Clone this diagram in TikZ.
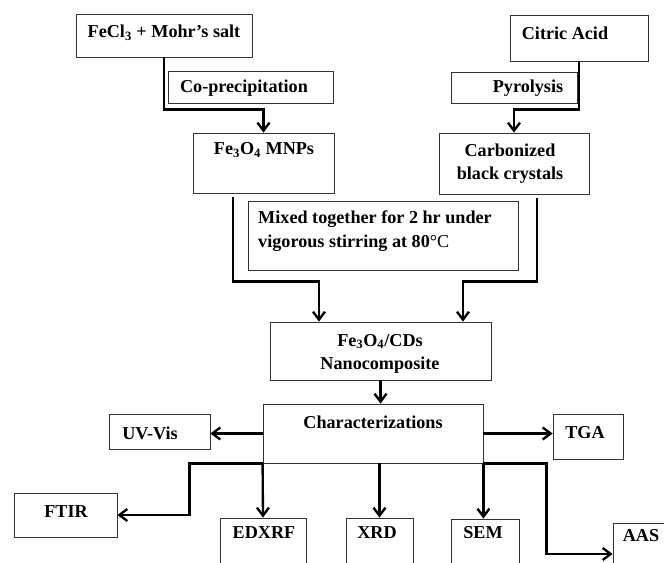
\documentclass[tikz,border=0pt]{standalone}
\usepackage{fontspec}
\setmainfont{Liberation Serif}
\usetikzlibrary{positioning,arrows.meta,calc}

\begin{document}
\begin{tikzpicture}[x=0.03cm, y=-0.03cm,
  box/.style={draw=black!80, line width=0.7pt, inner sep=0pt},
  lbl/.style={font=\bfseries\fontsize{15.5}{20}\selectfont, align=center, inner sep=0pt},
  flow/.style={line width=2pt, -{Straight Barb[length=2.4mm,width=3.6mm]}}]
  \useasboundingbox (0,0) rectangle (664,563);
  % boxes: name / centre x / centre y / width / height
  \foreach \n/\x/\y/\w/\h in
    {salt/164/35.5/176/43, coprec/250.5/87/165/32, mnp/263.5/163/141/60,
     citric/579/38/138/46, pyro/514/87.5/126/31, carb/514/163.5/150/61,
     mixed/383/235.5/270/69, nano/380.5/351/221/58, char/373/433.5/220/59,
     uvvis/159.5/431.5/101/35, tga/588/436.5/70/45, ftir/65.5/515/103/44,
     edxrf/263/549/86/62, xrd/379.5/549/67/62, sem/485/549.5/68/61,
     aas/646.5/554/67/62} {
    \node[box, minimum width=\w*0.03cm, minimum height=\h*0.03cm] (\n) at (\x,\y) {};
  }
  % texts
  \foreach \n/\x/\y/\t in
    {salt/164/33/{FeCl\textsubscript{3} + Mohr’s salt},
     coprec/244/88/{Co-precipitation},
     mnp/264/150/{Fe\textsubscript{3}O\textsubscript{4} MNPs},
     citric/565/33/{Citric Acid},
     pyro/528/88/{Pyrolysis},
     carb/510/163.5/{Carbonized\\black crystals},
     nano/380/354/{Fe\textsubscript{3}O\textsubscript{4}/CDs\\Nanocomposite},
     char/373/422/{Characterizations},
     uvvis/150/433/{UV-Vis},
     tga/585/433/{TGA},
     ftir/66/512/{FTIR},
     edxrf/264/533/{EDXRF},
     xrd/377/533/{XRD},
     sem/483/533/{SEM},
     aas/641/536/{AAS}} {
    \node[lbl] (\n-t) at (\x,\y) {\t};
  }
  \node[lbl, align=left, anchor=west] (mixed-t) at (258,231)
    {Mixed together for 2 hr under\\vigorous stirring at 80\textmd{°C}};

  % synthesis
  \draw[flow] (salt.south) |- ($(mnp.north)+(0,-23)$) -- (mnp.north);
  \draw[flow] (citric.south) |- ($(carb.north)+(0,-23)$) -- (carb.north);
  \draw[flow] ($(mnp.south)+(-30.5,4)$) |- ($(nano.north)+(-61.5,-40)$)
    -- ($(nano.north)+(-61.5,0)$);
  \draw[flow] ($(carb.south)+(23,4)$) |- ($(nano.north)+(82.5,-40)$)
    -- ($(nano.north)+(82.5,0)$);
  \draw[flow] (nano.south) -- (nano.south |- char.north);

  % characterizations
  \draw[flow] (char.west) -- (char.west -| uvvis.east);
  \draw[flow] (char.east) -- (char.east -| tga.west);
  \draw[flow] (char.south west) -| ($(ftir.east)+(72,0)$) -- (ftir.east);
  \draw[flow] (char.south west) -- (edxrf.north);
  \draw[flow] (xrd.north |- char.south) -- (xrd.north);
  \draw[flow] (char.south east) -- (char.south east |- sem.north);
  \draw[flow] (char.south east) -| ($(aas.west)+(-66,0)$) -- (aas.west);
\end{tikzpicture}
\end{document}
